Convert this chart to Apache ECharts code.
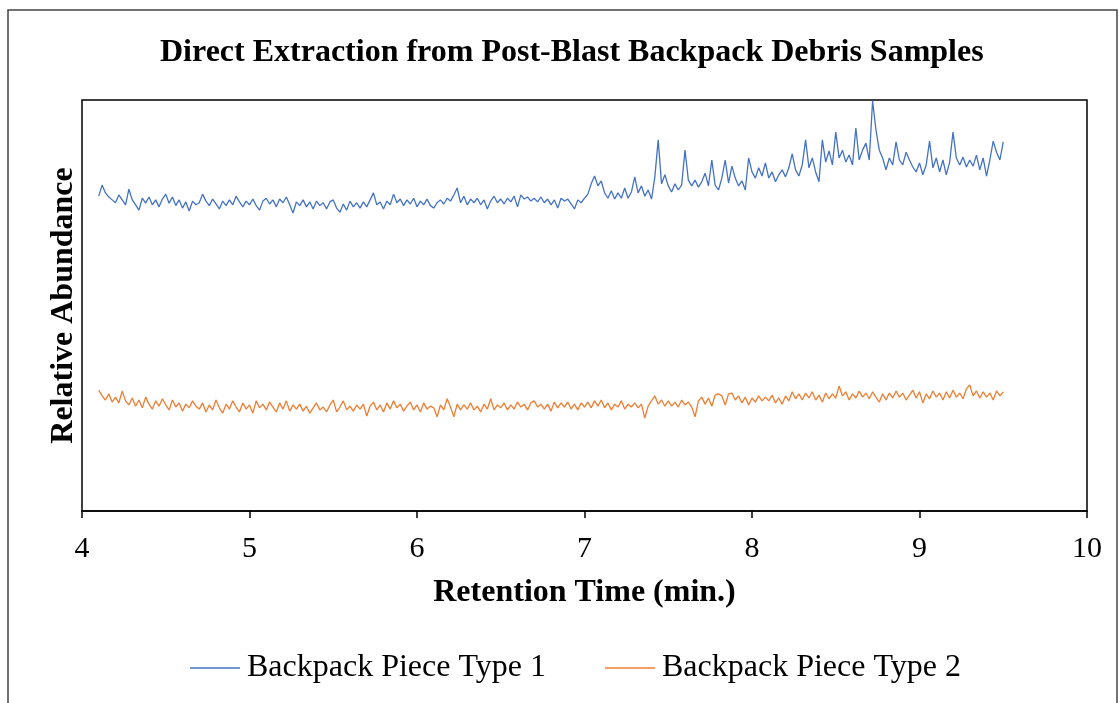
<!DOCTYPE html>
<html>
<head>
<meta charset="utf-8">
<script src="https://cdn.jsdelivr.net/npm/echarts@6/dist/echarts.min.js"></script>
<style>
html,body{margin:0;padding:0;background:#fff;}
#chart{width:1119px;height:703px;}
</style>
</head>
<body>
<div id="chart"></div>
<script>
// Sampling: retention time starts at 4.10 min, one reading every 0.02 min, to 9.50 min
const startTime = 4.10;
const timeStep = 0.02;
const xTicks = [4, 5, 6, 7, 8, 9, 10];
const seriesNames = ['Backpack Piece Type 1', 'Backpack Piece Type 2'];

// Relative abundance (arbitrary units, 0-100 axis)
const type1 = [
  76.6, 79.3, 77.4, 76.4, 75.7, 75.0, 76.9, 75.7, 74.5, 78.3,
  75.7, 74.5, 73.2, 76.1, 74.9, 76.4, 74.5, 75.7, 74.0, 75.9,
  77.1, 74.9, 76.4, 74.3, 75.7, 73.7, 75.2, 73.0, 75.4, 74.5,
  75.0, 77.1, 75.4, 74.3, 75.9, 74.7, 73.5, 75.4, 74.3, 75.7,
  74.5, 76.6, 75.2, 74.0, 75.4, 74.5, 75.9, 74.3, 73.2, 75.4,
  76.1, 74.7, 75.7, 74.0, 75.9, 75.0, 76.4, 74.5, 72.5, 75.2,
  74.3, 75.7, 74.0, 75.2, 73.5, 75.4, 74.3, 75.0, 73.5, 75.2,
  75.7, 73.7, 72.7, 74.7, 73.2, 75.4, 74.0, 75.0, 73.7, 75.2,
  74.0, 75.7, 77.4, 74.5, 75.2, 73.5, 75.4, 74.5, 77.1, 75.0,
  75.9, 74.3, 75.7, 74.7, 76.1, 74.0, 75.4, 74.5, 75.9, 74.3,
  73.7, 75.0, 75.7, 74.7, 76.1, 75.4, 76.9, 78.6, 75.0, 76.6,
  74.5, 75.9, 75.0, 76.1, 74.5, 75.7, 73.5, 75.4, 76.6, 75.0,
  75.9, 74.7, 76.1, 75.2, 76.6, 74.0, 76.9, 75.9, 76.4, 75.4,
  76.1, 75.2, 76.4, 75.0, 75.9, 74.5, 75.7, 73.7, 76.1, 75.4,
  75.9, 74.7, 73.5, 75.7, 75.0, 76.1, 77.1, 79.6, 81.5, 79.1,
  80.3, 77.4, 76.1, 77.9, 75.9, 77.4, 76.1, 78.6, 76.1, 77.6,
  81.3, 77.4, 79.1, 76.6, 78.1, 75.9, 81.3, 90.3, 79.6, 81.8,
  79.1, 77.6, 79.6, 78.1, 79.3, 87.8, 80.5, 79.1, 80.5, 78.8,
  80.1, 82.2, 79.1, 85.4, 79.3, 78.1, 81.0, 85.4, 79.8, 83.9,
  81.0, 79.1, 80.3, 78.1, 85.9, 82.5, 81.0, 83.5, 81.5, 84.7,
  81.0, 82.5, 80.1, 81.8, 83.0, 81.3, 83.5, 86.9, 83.0, 81.5,
  84.2, 90.3, 83.5, 85.9, 82.5, 80.1, 90.3, 84.9, 87.6, 84.2,
  92.2, 85.9, 87.8, 84.9, 86.6, 84.2, 93.2, 85.4, 87.8, 89.5,
  85.4, 99.8, 92.7, 87.8, 85.9, 83.0, 85.9, 84.2, 89.8, 85.4,
  84.2, 87.3, 85.4, 83.7, 82.5, 84.7, 81.8, 84.2, 90.0, 83.5,
  85.9, 82.5, 85.4, 81.8, 84.9, 92.2, 85.9, 84.2, 86.1, 83.7,
  85.4, 83.9, 86.6, 83.0, 85.9, 81.5, 85.4, 90.0, 87.3, 85.4,
  89.8
];
const type2 = [
  29.4, 28.0, 27.0, 28.5, 26.5, 27.7, 26.3, 29.2, 26.8, 25.8,
  27.5, 25.5, 27.0, 25.1, 27.7, 26.0, 24.8, 26.8, 25.5, 27.3,
  25.8, 24.6, 27.0, 25.3, 26.3, 24.3, 26.0, 25.1, 26.8, 25.5,
  24.8, 26.3, 24.1, 25.8, 24.6, 27.0, 25.1, 23.8, 26.0, 24.8,
  26.8, 25.3, 24.1, 26.3, 24.8, 25.8, 23.8, 26.8, 25.1, 26.0,
  24.6, 26.5, 25.3, 24.1, 26.3, 24.8, 26.8, 24.3, 25.8, 24.8,
  26.0, 24.3, 25.5, 23.8, 25.1, 26.3, 24.6, 25.3, 24.1, 25.8,
  27.0, 24.1, 25.3, 26.8, 24.6, 25.5, 24.3, 25.8, 24.8, 26.0,
  23.1, 25.5, 26.5, 24.6, 25.8, 24.1, 26.3, 24.8, 26.8, 25.1,
  26.0, 24.3, 25.5, 26.5, 24.6, 25.8, 24.1, 26.3, 24.8, 25.5,
  25.1, 22.9, 25.8, 24.6, 27.3, 25.3, 22.9, 26.0, 24.6, 25.8,
  24.8, 26.3, 24.6, 25.5, 24.1, 26.0, 24.8, 27.3, 24.6, 25.8,
  25.1, 26.3, 24.6, 25.8, 24.8, 26.5, 25.3, 26.0, 24.6, 26.3,
  26.8, 25.3, 26.0, 24.8, 26.0, 24.3, 26.5, 25.1, 26.3, 25.3,
  26.5, 24.8, 26.0, 24.6, 26.3, 25.3, 26.5, 25.1, 26.8, 25.5,
  27.0, 25.1, 26.3, 24.6, 26.0, 25.3, 26.8, 24.8, 26.0, 25.3,
  26.3, 25.1, 26.0, 22.6, 25.5, 26.8, 28.0, 26.0, 27.0, 25.5,
  26.8, 25.5, 26.5, 25.3, 27.0, 25.8, 26.5, 25.3, 22.9, 26.8,
  27.7, 26.0, 27.5, 25.5, 28.2, 28.5, 28.0, 25.8, 28.5, 28.7,
  27.0, 28.0, 26.3, 27.7, 25.8, 27.5, 26.5, 28.0, 26.8, 27.7,
  26.8, 28.2, 26.3, 27.5, 26.0, 28.0, 26.8, 29.0, 27.3, 28.5,
  27.0, 28.7, 27.5, 29.0, 27.0, 28.2, 26.5, 28.7, 27.3, 28.5,
  27.5, 30.4, 28.0, 29.0, 27.0, 28.5, 27.5, 29.2, 27.7, 28.7,
  27.3, 29.0, 27.7, 26.5, 28.5, 27.0, 28.7, 27.5, 29.2, 27.7,
  28.7, 27.0, 28.2, 29.4, 27.5, 29.0, 26.3, 28.5, 27.3, 29.2,
  27.7, 28.7, 27.0, 29.0, 27.5, 29.4, 27.7, 28.7, 27.3, 29.7,
  30.7, 28.0, 29.2, 27.5, 29.0, 27.7, 28.7, 27.0, 29.2, 28.0,
  29.0
];

function toPairs(vals) {
  return vals.map((v, i) => [+(startTime + i * timeStep).toFixed(2), v]);
}

const serif = '"Liberation Serif", "Times New Roman", serif';
const chart = echarts.init(document.getElementById('chart'), null, {renderer: 'canvas'});
chart.setOption({
  animation: false,
  backgroundColor: '#fff',
  title: {
    text: 'Direct Extraction from Post-Blast Backpack Debris Samples',
    left: 155, top: 32,
    textStyle: {fontFamily: serif, fontSize: 32, fontWeight: 'bold', color: '#000'}
  },
  graphic: [{
    type: 'rect', silent: true, z: -1,
    shape: {x: 8, y: 10, width: 1109, height: 720},
    style: {fill: 'none', stroke: '#444', lineWidth: 1.5}
  }],
  legend: {
    data: seriesNames,
    top: 647, left: 185,
    icon: 'rect', itemWidth: 50, itemHeight: 1.5, itemGap: 59,
    textStyle: {fontFamily: serif, fontSize: 32, color: '#000', padding: [0, 0, 0, 2]}
  },
  grid: {
    left: 82, right: 32, top: 100, bottom: 192,
    show: true, borderColor: '#000', borderWidth: 1.5, backgroundColor: 'transparent'
  },
  xAxis: {
    type: 'value', min: xTicks[0], max: xTicks[xTicks.length - 1], interval: 1,
    name: 'Retention Time (min.)', nameLocation: 'middle', nameGap: 66,
    nameTextStyle: {fontFamily: serif, fontSize: 32, fontWeight: 'bold', color: '#000'},
    axisLine: {show: true, lineStyle: {color: '#000', width: 1.5}},
    axisTick: {show: true, inside: false, length: 7, lineStyle: {color: '#000', width: 1.5}},
    axisLabel: {fontFamily: serif, fontSize: 30, color: '#000', margin: 23},
    splitLine: {show: false}
  },
  yAxis: {
    type: 'value', min: 0, max: 100,
    name: 'Relative Abundance', nameLocation: 'middle', nameGap: 2, nameRotate: 90,
    nameTextStyle: {fontFamily: serif, fontSize: 32, fontWeight: 'bold', color: '#000'},
    axisLine: {show: false}, axisTick: {show: false}, axisLabel: {show: false},
    splitLine: {show: false}
  },
  series: [
    {
      name: seriesNames[0], type: 'line', data: toPairs(type1),
      showSymbol: false, symbol: 'none',
      lineStyle: {color: '#4472C4', width: 1.3}, itemStyle: {color: '#4472C4'}
    },
    {
      name: seriesNames[1], type: 'line', data: toPairs(type2),
      showSymbol: false, symbol: 'none',
      lineStyle: {color: '#ED7D31', width: 1.3}, itemStyle: {color: '#ED7D31'}
    }
  ]
});
</script>
</body>
</html>
